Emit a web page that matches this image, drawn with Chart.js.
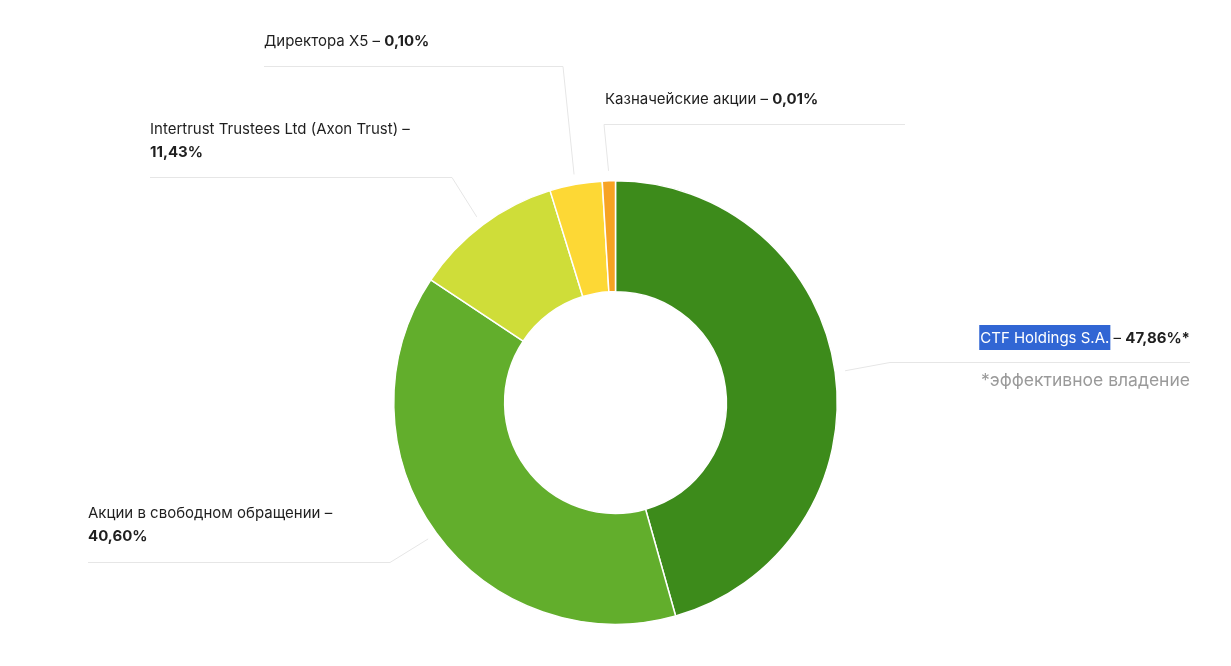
<!DOCTYPE html>
<html lang="ru">
<head>
<meta charset="utf-8">
<title>Структура акционеров X5</title>
<script src="https://cdn.jsdelivr.net/npm/chart.js@4"></script>
<style>
    html, body { margin: 0; padding: 0; background: #fff; }
    #wrap { width: 1231px; height: 666px; position: relative; }
</style>
</head>
<body>
<div id="wrap"><canvas id="owners-chart"></canvas></div>
<script>
// названия акционеров
const holders = [
    'CTF Holdings S.A.',
    'Акции в свободном обращении',
    'Intertrust Trustees Ltd (Axon Trust)',
    'Директора X5',
    'Казначейские акции'
];
// подписи долей, как в оригинале
const shareLabels = ['47,86%*', '40,60%', '11,43%', '0,10%', '0,01%'];
// размеры секторов (мелкие доли на картинке увеличены)
const sliceValues = [47.86, 40.60, 11.43, 4, 1];
const sliceColors = ['#3d8b1b', '#62ae2c', '#cfdd39', '#fdd835', '#f7a323'];

// где стоят подписи и линии-выноски (только разметка)
const labelLayout = [
    { x: 1190, align: 'right', rows: [338], lineY: 362, from: 890, to: 1190, elbowX: 890, highlight: true },
    { x: 88, align: 'left', rows: [513, 536], lineY: 562, from: 88, to: 390, elbowX: 390 },
    { x: 150, align: 'left', rows: [129, 152], lineY: 177, from: 150, to: 452, elbowX: 452 },
    { x: 264, align: 'left', rows: [41], lineY: 66, from: 264, to: 563, elbowX: 563 },
    { x: 605, align: 'left', rows: [99], lineY: 124, from: 604, to: 905, elbowX: 604 }
];

const FONT = 'Inter, "Noto Sans", sans-serif';
const TEXT_COLOR = '#1f1f1f';

// рисует строку из кусков с разной жирностью
function drawPieces(ctx, pieces, x, y, align, highlight) {
    let total = 0;
    pieces.forEach(p => {
        ctx.font = (p.bold ? '700 ' : '400 ') + '15px ' + FONT;
        p.w = ctx.measureText(p.text).width;
        total += p.w;
    });
    let cx = align === 'right' ? x - total : x;
    pieces.forEach(p => {
        ctx.font = (p.bold ? '700 ' : '400 ') + '15px ' + FONT;
        if (highlight && p.mark) {
            ctx.fillStyle = '#3166d4';
            ctx.fillRect(cx - 1, y - 13, p.w + 2, 25);
            ctx.fillStyle = '#ffffff';
        } else {
            ctx.fillStyle = TEXT_COLOR;
        }
        ctx.textAlign = 'left';
        ctx.textBaseline = 'middle';
        ctx.fillText(p.text, cx, y);
        cx += p.w;
    });
}

const calloutPlugin = {
    id: 'callouts',
    afterDatasetsDraw(chart) {
        const ctx = chart.ctx;
        const arcs = chart.getDatasetMeta(0).data;
        ctx.save();
        arcs.forEach((arc, i) => {
            const lay = labelLayout[i];
            const mid = (arc.startAngle + arc.endAngle) / 2;
            const r = arc.outerRadius + 10;
            const sx = arc.x + Math.cos(mid) * r;
            const sy = arc.y + Math.sin(mid) * r;

            // выноска
            ctx.strokeStyle = '#e6e6e6';
            ctx.lineWidth = 1;
            ctx.beginPath();
            ctx.moveTo(sx, sy);
            ctx.lineTo(lay.elbowX, lay.lineY + 0.5);
            ctx.stroke();
            ctx.beginPath();
            ctx.moveTo(lay.from, lay.lineY + 0.5);
            ctx.lineTo(lay.to, lay.lineY + 0.5);
            ctx.stroke();

            // текст
            const name = holders[i];
            const pct = shareLabels[i];
            if (lay.rows.length === 2) {
                drawPieces(ctx, [{ text: name + ' –' }], lay.x, lay.rows[0], lay.align);
                drawPieces(ctx, [{ text: pct, bold: true }], lay.x, lay.rows[1], lay.align);
            } else {
                drawPieces(ctx, [
                    { text: name, mark: true },
                    { text: ' – ' },
                    { text: pct, bold: true }
                ], lay.x, lay.rows[0], lay.align, lay.highlight);
            }
        });

        // сноска под CTF
        ctx.font = '400 17.5px ' + FONT;
        ctx.fillStyle = '#9a9a9a';
        ctx.textAlign = 'right';
        ctx.textBaseline = 'middle';
        ctx.fillText('*эффективное владение', 1190, 381);
        ctx.restore();
    }
};

document.addEventListener('DOMContentLoaded', () => {
    const canvas = document.getElementById('owners-chart');
    new Chart(canvas.getContext('2d'), {
        type: 'doughnut',
        data: {
            labels: holders,
            datasets: [{
                data: sliceValues,
                backgroundColor: sliceColors,
                borderColor: '#ffffff',
                borderWidth: 1.5
            }]
        },
        options: {
            responsive: true,
            maintainAspectRatio: false,
            animation: false,
            events: [],
            cutout: '50%',
            layout: { padding: { top: 180, bottom: 41, left: 10, right: 10 } },
            plugins: {
                legend: { display: false },
                tooltip: { enabled: false }
            }
        },
        plugins: [calloutPlugin]
    });
});
</script>
</body>
</html>
